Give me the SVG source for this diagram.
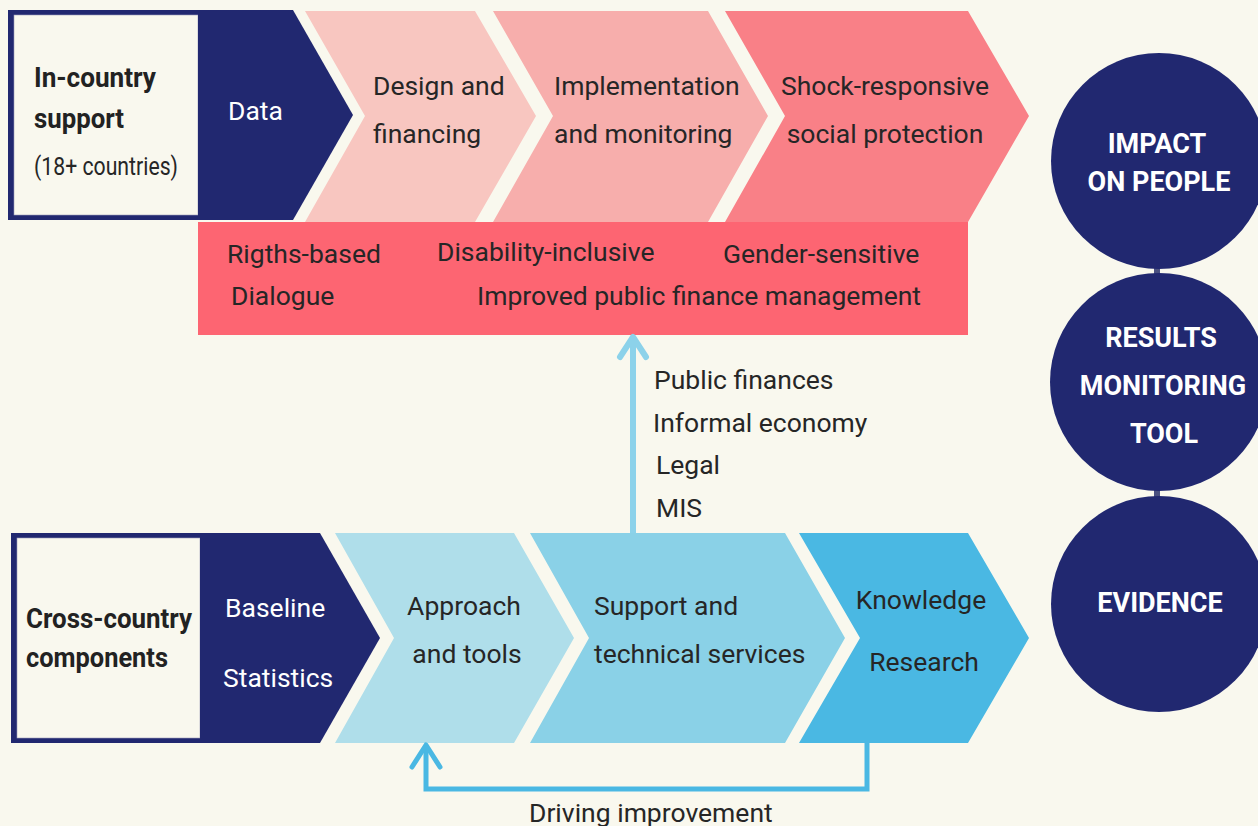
<svg xmlns="http://www.w3.org/2000/svg" width="1258" height="826" viewBox="0 0 1258 826">
<style>
text{font-family:Roboto,"Liberation Sans",sans-serif;fill:#262626;font-size:26.5px}
.w{fill:#ffffff}
.hd{font-weight:bold;font-size:27px;fill:#222222}
.ci{font-weight:bold;font-size:27px;fill:#ffffff;text-anchor:middle}
.navy{fill:#212870}
.mid{text-anchor:middle}
</style>
<rect x="0" y="0" width="1258" height="826" fill="#F9F8EE"/>

<g id="in-country">
<rect x="8" y="10" width="192" height="210" class="navy"/>
<rect x="14" y="15" width="184" height="200" fill="#F9F8EE" stroke="#9a9cb8" stroke-width="0.6"/>
<text class="hd" x="34" y="87" textLength="122" lengthAdjust="spacingAndGlyphs">In-country</text>
<text class="hd" x="34" y="128" textLength="90" lengthAdjust="spacingAndGlyphs">support</text>
<text x="34" y="175" font-size="22" textLength="144" lengthAdjust="spacingAndGlyphs">(18+ countries)</text>
</g>
<g id="data">
<polygon points="198,10 293,10 353,115 293,220 198,220" class="navy"/>
<text class="w" x="228" y="120">Data</text>
</g>
<g id="design">
<polygon points="305,11 475,11 536,116 475,222 305,222 365,116" fill="#F8C6C0"/>
<text x="373" y="95">Design and</text>
<text x="373" y="143">financing</text>
</g>
<g id="implementation">
<polygon points="493,11 708,11 768,116 708,222 493,222 553,116" fill="#F7AEAC"/>
<text x="554" y="95">Implementation</text>
<text x="554" y="143">and monitoring</text>
</g>
<g id="shock">
<polygon points="725,11 968,11 1029,116 968,222 725,222 785,116" fill="#F98087"/>
<text x="885" y="95" class="mid">Shock-responsive</text>
<text x="885" y="143" class="mid">social protection</text>
</g>
<g id="principles">
<rect x="198" y="222" width="770" height="113" fill="#FD6572"/>
<text x="227" y="263" fill="#333333">Rigths-based</text>
<text x="437" y="261" fill="#111111">Disability-inclusive</text>
<text x="723" y="263" fill="#111111">Gender-sensitive</text>
<text x="231" y="305" fill="#111111">Dialogue</text>
<text x="477" y="305" fill="#111111">Improved public finance management</text>
</g>

<g id="cross-country">
<rect x="11" y="533" width="189" height="210" class="navy"/>
<rect x="17" y="538" width="183" height="200" fill="#F9F8EE" stroke="#9a9cb8" stroke-width="0.6"/>
<text class="hd" x="26" y="628" textLength="166" lengthAdjust="spacingAndGlyphs">Cross-country</text>
<text class="hd" x="26" y="667" textLength="142" lengthAdjust="spacingAndGlyphs">components</text>
</g>
<g id="baseline">
<polygon points="200,533 320,533 380,638 320,743 200,743" class="navy"/>
<text class="w" x="225" y="617">Baseline</text>
<text class="w" x="223" y="687">Statistics</text>
</g>
<g id="approach">
<polygon points="335,533 514,533 574,638 514,743 335,743 394,638" fill="#AFDEEA"/>
<text x="464" y="615" class="mid">Approach</text>
<text x="467" y="663" class="mid">and tools</text>
</g>
<g id="support">
<polygon points="530,533 785,533 845,638 785,743 530,743 589,638" fill="#8AD1E7"/>
<text x="594" y="615">Support and</text>
<text x="594" y="663">technical services</text>
</g>
<g id="knowledge">
<polygon points="799,533 968,533 1029,638 968,743 799,743 860,638" fill="#4AB8E3"/>
<text x="921" y="609" class="mid">Knowledge</text>
<text x="924" y="671" class="mid">Research</text>
</g>

<g id="connectors" fill="none" stroke-linecap="round" stroke-linejoin="round">
<path d="M633,533 V338" stroke="#8CD2EA" stroke-width="6" stroke-linecap="butt"/>
<path d="M620,357 L633,337 L646,357" stroke="#8CD2EA" stroke-width="6"/>
<path d="M867,743 V789 H426 V747" stroke="#4AB8E3" stroke-width="5" stroke-linecap="butt" stroke-linejoin="miter"/>
<path d="M412,767 L426,745 L440,767" stroke="#4AB8E3" stroke-width="5"/>
<rect x="1154" y="266" width="6" height="10" fill="#4a5080" stroke="none"/>
<rect x="1154" y="488" width="6" height="10" fill="#4a5080" stroke="none"/>
</g>
<g id="labels">
<text x="654" y="389">Public finances</text>
<text x="653" y="432">Informal economy</text>
<text x="656" y="474">Legal</text>
<text x="656" y="517">MIS</text>
<text x="529" y="822">Driving improvement</text>
</g>

<g id="impact">
<circle cx="1159" cy="161" r="108" class="navy"/>
<text class="ci" x="1157" y="153">IMPACT</text>
<text class="ci" x="1159" y="191">ON PEOPLE</text>
</g>
<g id="results">
<circle cx="1159" cy="382" r="109" class="navy"/>
<text class="ci" x="1161" y="347">RESULTS</text>
<text class="ci" x="1163" y="395">MONITORING</text>
<text class="ci" x="1164" y="443">TOOL</text>
</g>
<g id="evidence">
<circle cx="1159" cy="604" r="108" class="navy"/>
<text class="ci" x="1160" y="612">EVIDENCE</text>
</g>
</svg>
